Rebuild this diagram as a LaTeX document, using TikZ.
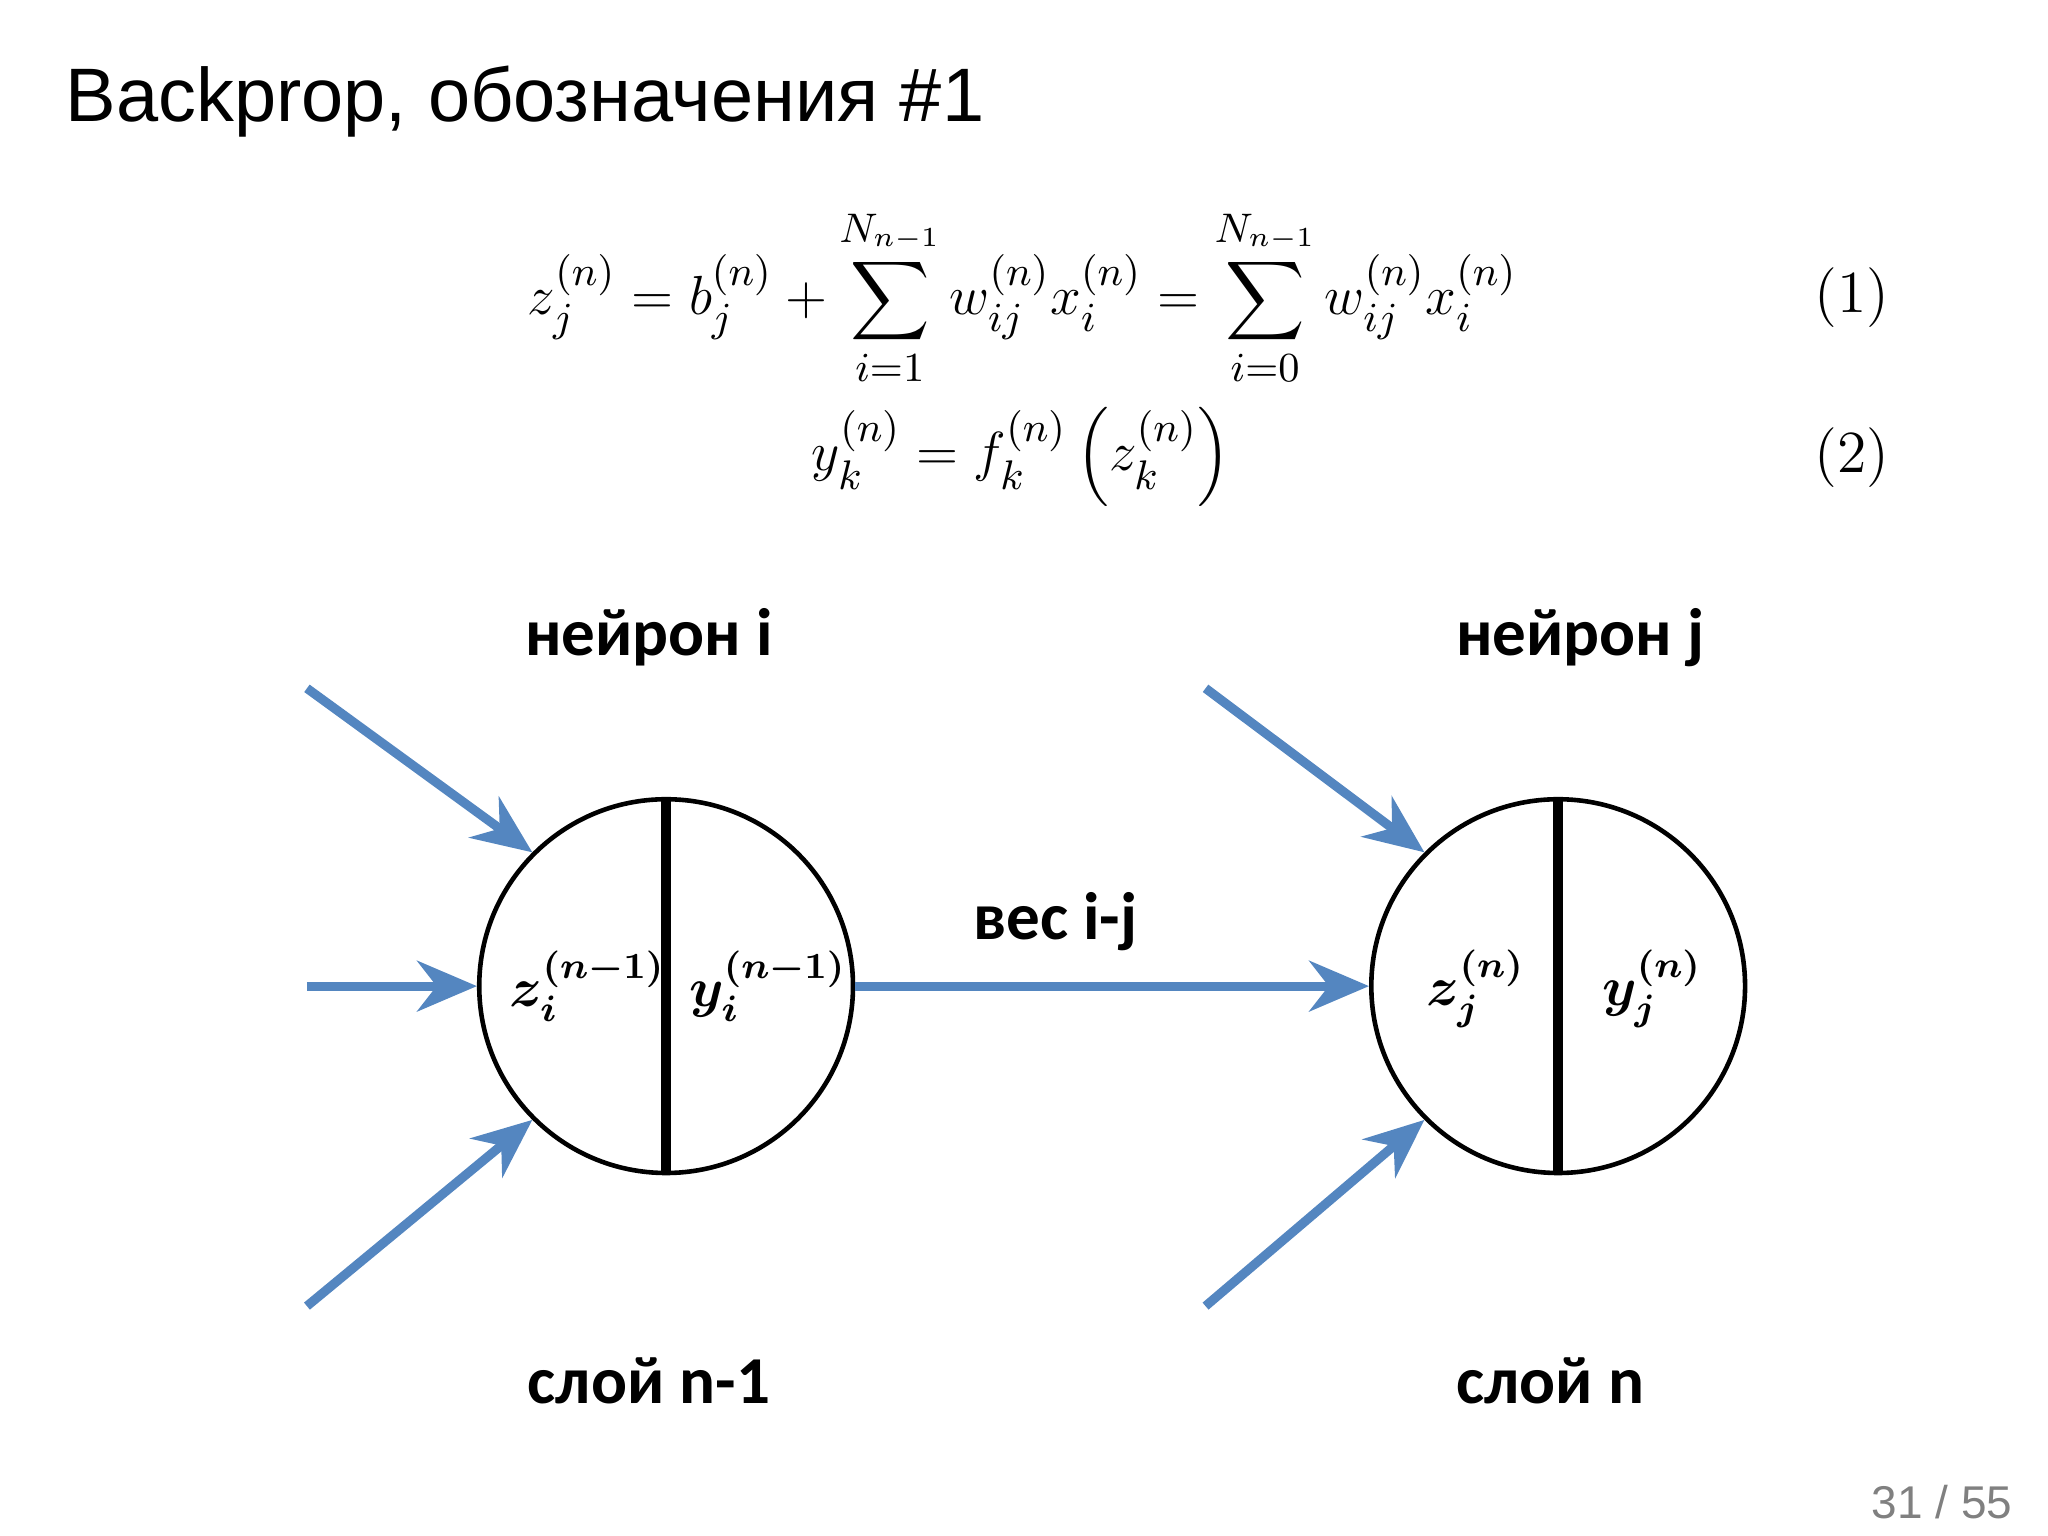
\documentclass[tikz,border=0pt]{standalone}
\usepackage{fontspec}
\usepackage{amsmath}
\newfontfamily\titlefont{Liberation Sans}
\newfontfamily\labfont{Carlito}
\usetikzlibrary{arrows.meta}
\definecolor{arrblue}{RGB}{84,134,192}
\begin{document}
\begin{tikzpicture}[x=0.01cm,y=-0.01cm,
  inarrow/.style={draw=arrblue,line width=2pt,-{Stealth[length=13pt,width=11pt]}},
  neuron/.style={circle,draw,line width=1pt,minimum size=2.86cm,inner sep=0pt},
  lab/.style={font=\labfont\bfseries\fontsize{14.6}{17}\selectfont},
  eq/.style={font=\fontsize{13}{15}\selectfont}]
\useasboundingbox (0,0) rectangle (1568,1176);
\node[anchor=base west,font=\titlefont\fontsize{16.5}{20}\selectfont] (title) at (38,93) {Backprop, обозначения \#1};
\node[eq] (eq1) at (783,228) {$\displaystyle z_j^{(n)} = b_j^{(n)} + \sum_{i=1}^{N_{n-1}} w_{ij}^{(n)} x_i^{(n)} = \sum_{i=0}^{N_{n-1}} w_{ij}^{(n)} x_i^{(n)}$};
\node[eq] (n1) at (1418,228) {(1)};
\node[eq] (eq2) at (782,350) {$\displaystyle y_k^{(n)} = f_k^{(n)}\left(z_k^{(n)}\right)$};
\node[eq] (n2) at (1418,350) {(2)};

\node[neuron] (A) at (510,755) {};
\node[neuron] (B) at (1193,755) {};
\draw[line width=2.2pt] (A.north) -- (A.south);
\draw[line width=2.2pt] (B.north) -- (B.south);
\node[font=\fontsize{12}{14}\selectfont] (za) at (450,755) {$\boldsymbol{z_i^{(n-1)}}$};
\node[font=\fontsize{12}{14}\selectfont] (ya) at (588,755) {$\boldsymbol{y_i^{(n-1)}}$};
\node[font=\fontsize{12}{14}\selectfont] (zb) at (1130,757) {$\boldsymbol{z_j^{(n)}}$};
\node[font=\fontsize{12}{14}\selectfont] (yb) at (1265,757) {$\boldsymbol{y_j^{(n)}}$};

\coordinate (a1) at (235,527); \coordinate (a2) at (235,755); \coordinate (a3) at (235,1000);
\coordinate (b1) at (923,527); \coordinate (b3) at (923,1000);
\draw[inarrow] (a1) -- (A.135);
\draw[inarrow] (a2) -- (A.west);
\draw[inarrow] (a3) -- (A.225);
\draw[inarrow] (b1) -- (B.135);
\draw[inarrow] (b3) -- (B.225);
\draw[inarrow] (A.east) -- (B.west);

\node[lab] (l1) at (497,488) {нейрон i};
\node[lab] (l2) at (1210,488) {нейрон j};
\node[lab] (l3) at (808,706) {вес i-j};
\node[lab] (l4) at (497,1057) {слой n-1};
\node[lab] (l5) at (1187,1057) {слой n};
\node[text=gray,font=\titlefont\fontsize{10}{12}\selectfont] (pg) at (1487,1150) {31 / 55};
\end{tikzpicture}
\end{document}
